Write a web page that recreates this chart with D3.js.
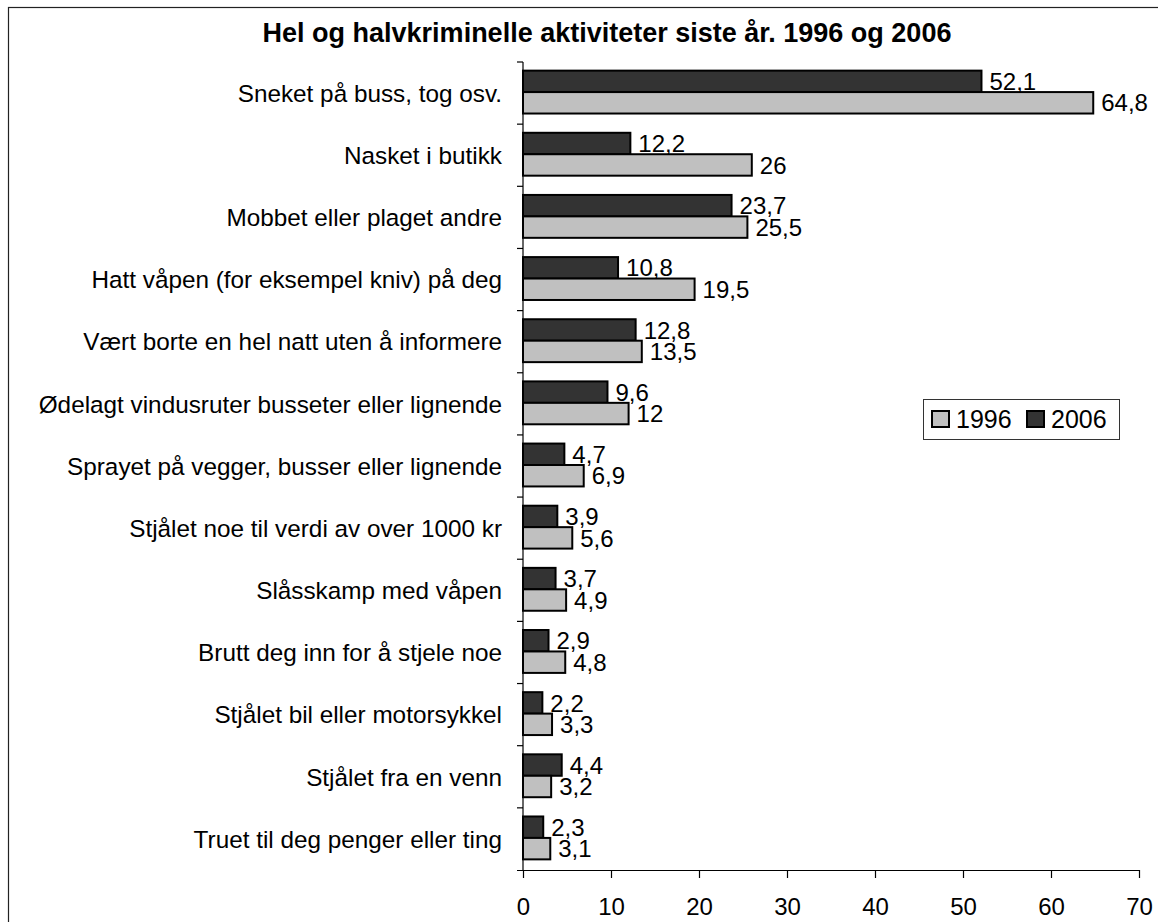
<!DOCTYPE html>
<html><head><meta charset="utf-8">
<script src="https://cdn.jsdelivr.net/npm/d3@7"></script>
<style>body{margin:0;background:#fff}svg{display:block}text{font-family:"Liberation Sans",Arial,Helvetica,sans-serif}</style>
</head><body>
<script>
const title = "Hel og halvkriminelle aktiviteter siste år. 1996 og 2006";
const categories = [
  "Sneket på buss, tog osv.",
  "Nasket i butikk",
  "Mobbet eller plaget andre",
  "Hatt våpen (for eksempel kniv) på deg",
  "Vært borte en hel natt uten å informere",
  "Ødelagt vindusruter busseter eller lignende",
  "Sprayet på vegger, busser eller lignende",
  "Stjålet noe til verdi av over 1000 kr",
  "Slåsskamp med våpen",
  "Brutt deg inn for å stjele noe",
  "Stjålet bil eller motorsykkel",
  "Stjålet fra en venn",
  "Truet til deg penger eller ting"
];
const values1996 = [64.8, 26, 25.5, 19.5, 13.5, 12, 6.9, 5.6, 4.9, 4.8, 3.3, 3.2, 3.1];
const values2006 = [52.1, 12.2, 23.7, 10.8, 12.8, 9.6, 4.7, 3.9, 3.7, 2.9, 2.2, 4.4, 2.3];
const seriesNames = ["1996", "2006"];
const xTicks = [0, 10, 20, 30, 40, 50, 60, 70];

(function () {
const W = 1158, H = 922;
const colors = {"1996": "#c0c0c0", "2006": "#333333"};
const svg = d3.select("body").append("svg").attr("width", W).attr("height", H);

// outer frame
svg.append("rect").attr("x", 8.5).attr("y", 7.5).attr("width", W + 10).attr("height", H + 10)
  .attr("fill", "none").attr("stroke", "#222").attr("stroke-width", 1.2);

const pL = 523, pR = 1139, pT = 62, pB = 870;
const x = d3.scaleLinear().domain([0, 70]).range([pL, pR]);
const y = d3.scaleBand().domain(categories).range([pT, pB]).paddingInner(0).paddingOuter(0);
const barH = y.bandwidth() * 0.345;

// title
svg.append("text").attr("x", 607).attr("y", 42).attr("text-anchor", "middle")
  .attr("font-size", 27).attr("font-weight", "bold").attr("fill", "#000").text(title);

// bars
const g = svg.append("g");
categories.forEach((c, i) => {
  const cy = y(c) + y.bandwidth() / 2 - 1;
  const rows = [
    {s: "2006", v: values2006[i], y0: cy - barH},
    {s: "1996", v: values1996[i], y0: cy}
  ];
  rows.forEach(r => {
    g.append("rect").attr("x", x(0)).attr("y", r.y0).attr("width", x(r.v) - x(0)).attr("height", barH)
      .attr("fill", colors[r.s]).attr("stroke", "#000").attr("stroke-width", 2);
    g.append("text").attr("x", x(r.v) + 8).attr("y", r.y0 + barH / 2).attr("dy", "0.36em")
      .attr("font-size", 24).attr("fill", "#000").text(String(r.v).replace(".", ","));
  });
});

// y axis
const yAxis = svg.append("g");
yAxis.append("line").attr("x1", pL).attr("x2", pL).attr("y1", pT).attr("y2", pB).attr("stroke", "#000").attr("stroke-width", 1.2);
categories.forEach(c => {
  yAxis.append("line").attr("x1", pL - 6).attr("x2", pL).attr("y1", y(c)).attr("y2", y(c)).attr("stroke", "#000").attr("stroke-width", 1.2);
  yAxis.append("text").attr("x", 502).attr("y", y(c) + y.bandwidth() / 2).attr("dy", "0.36em")
    .attr("text-anchor", "end").attr("font-size", 24.3).attr("fill", "#000").text(c);
});

// x axis
const xAxis = d3.axisBottom(x).tickValues(xTicks).tickSize(8).tickPadding(20).tickFormat(d3.format("d"));
const xg = svg.append("g").attr("transform", `translate(0,${pB})`).call(xAxis);
xg.select(".domain").attr("d", `M${pL - 6},0.5H${pR}`).attr("stroke", "#000").attr("stroke-width", 1.2);
xg.selectAll(".tick line").attr("stroke", "#000").attr("stroke-width", 1.2);
xg.selectAll(".tick text").attr("font-size", 24).attr("fill", "#000").attr("font-family", "Liberation Sans, Arial, sans-serif");

// legend
const lg = svg.append("g");
lg.append("rect").attr("x", 923.5).attr("y", 399.5).attr("width", 196).attr("height", 40)
  .attr("fill", "#fff").attr("stroke", "#333").attr("stroke-width", 1);
const legendX = [932, 1027];
seriesNames.forEach((s, i) => {
  lg.append("rect").attr("x", legendX[i]).attr("y", 411).attr("width", 17).attr("height", 16)
    .attr("fill", colors[s]).attr("stroke", "#000").attr("stroke-width", 2);
  lg.append("text").attr("x", legendX[i] + 24).attr("y", 419).attr("dy", "0.36em")
    .attr("font-size", 25).attr("fill", "#000").text(s);
});
})();
</script>
</body></html>
